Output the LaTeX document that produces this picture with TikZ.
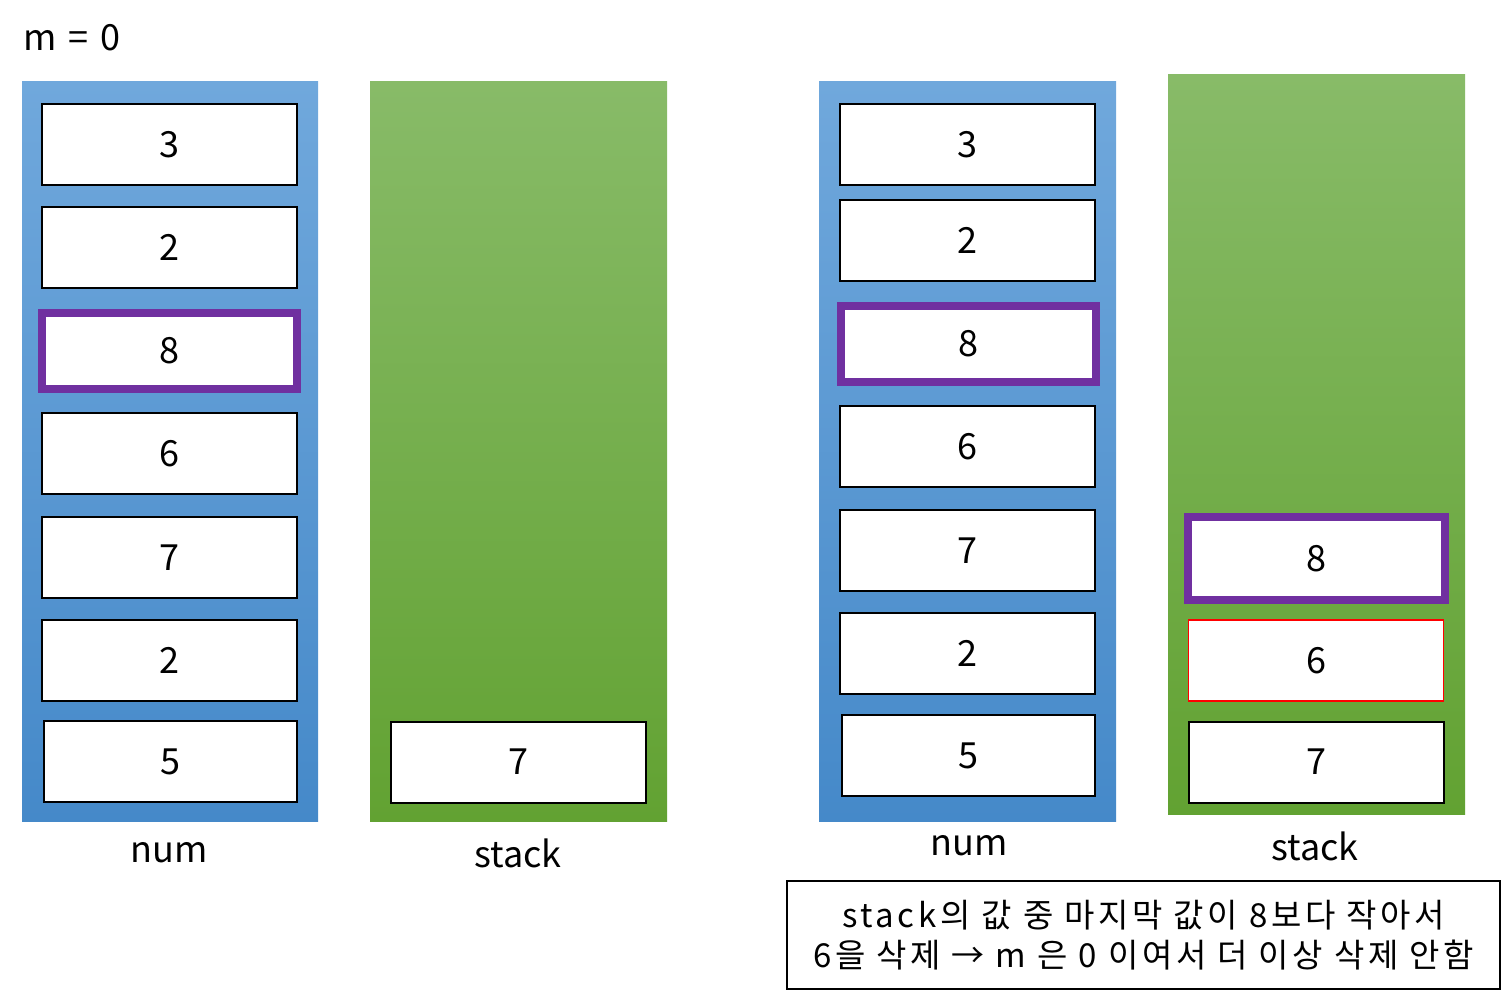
\documentclass[tikz,border=0pt]{standalone}
\usepackage{fontspec}
\setmainfont{Noto Sans CJK KR}
\newfontfamily\notefont[LetterSpace=11]{Noto Sans CJK KR}
\definecolor{bluetop}{HTML}{70A8DC}
\definecolor{bluebot}{HTML}{4589C9}
\definecolor{greentop}{HTML}{88BB68}
\definecolor{greenbot}{HTML}{62A232}
\definecolor{purp}{HTML}{7030A0}
\tikzset{
  panelblue/.style={rectangle, inner sep=0pt, top color=bluetop, bottom color=bluebot, draw=none},
  panelgreen/.style={rectangle, inner sep=0pt, top color=greentop, bottom color=greenbot, draw=none},
  cell/.style={rectangle, draw=black, fill=white, line width=2pt, minimum width=255pt, minimum height=81pt, inner sep=0pt, font=\fontsize{36}{40}\selectfont},
  hcell/.style={cell, draw=purp, line width=8pt, minimum width=255pt, minimum height=76pt},
  rcell/.style={cell, draw=red, line width=1.8pt},
  lbl/.style={font=\fontsize{36}{40}\selectfont, inner sep=0pt},
  note/.style={rectangle, draw=black, line width=2pt, fill=white, minimum width=713pt, minimum height=108pt, inner sep=0pt, align=center, font=\notefont\fontsize{33}{40}\selectfont}
}
\begin{document}
\begin{tikzpicture}[x=1pt,y=-1pt]
\useasboundingbox (0,0) rectangle (1505,995);
\node[lbl, anchor=west] (m) at (23,38) {m\hspace{12pt}=\hspace{12pt}0};
% left panels
\node[panelblue, minimum width=296pt, minimum height=739pt] (numL) at (170,451.5) {};
\node[panelgreen, minimum width=297pt, minimum height=739pt] (stkL) at (518.5,451.5) {};
\node[cell] (L1) at (169.5,144.5) {3};
\node[cell] (L2) at (169.5,247.5) {2};
\node[hcell] (L3) at (169.5,351) {8};
\node[cell] (L4) at (169.5,453.5) {6};
\node[cell] (L5) at (169.5,557.5) {7};
\node[cell] (L6) at (169.5,660.5) {2};
\node[cell, minimum width=253pt] (L7) at (170.5,761.5) {5};
\node[cell] (SL1) at (518.5,762) {7};
\node[lbl] (numLlbl) at (169,853) {num};
\node[lbl] (stkLlbl) at (518,853) {stack};
% right panels
\node[panelblue, minimum width=297pt, minimum height=739pt] (numR) at (967.5,451.5) {};
\node[panelgreen, minimum width=297pt, minimum height=739pt] (stkR) at (1316.5,444.5) {};
\node[cell] (R1) at (967,144.5) {3};
\node[cell] (R2) at (967,240.5) {2};
\node[hcell] (R3) at (968,343.5) {8};
\node[cell] (R4) at (967,446.5) {6};
\node[cell] (R5) at (967,550.5) {7};
\node[cell] (R6) at (967,653.5) {2};
\node[cell, minimum width=253pt] (R7) at (968.5,755.5) {5};
\node[hcell, minimum width=257pt, minimum height=83pt] (SR1) at (1316.5,558.5) {8};
\node[rcell] (SR2) at (1316,660.5) {6};
\node[cell] (SR3) at (1316,762) {7};
\node[lbl] (numRlbl) at (969,846) {num};
\node[lbl] (stkRlbl) at (1315,846) {stack};
\node[note] (txt) at (1143.5,935) {stack의 값 중 마지막 값이 8보다 작아서\\6을 삭제 → m 은 0 이여서 더 이상 삭제 안함};
\end{tikzpicture}
\end{document}
